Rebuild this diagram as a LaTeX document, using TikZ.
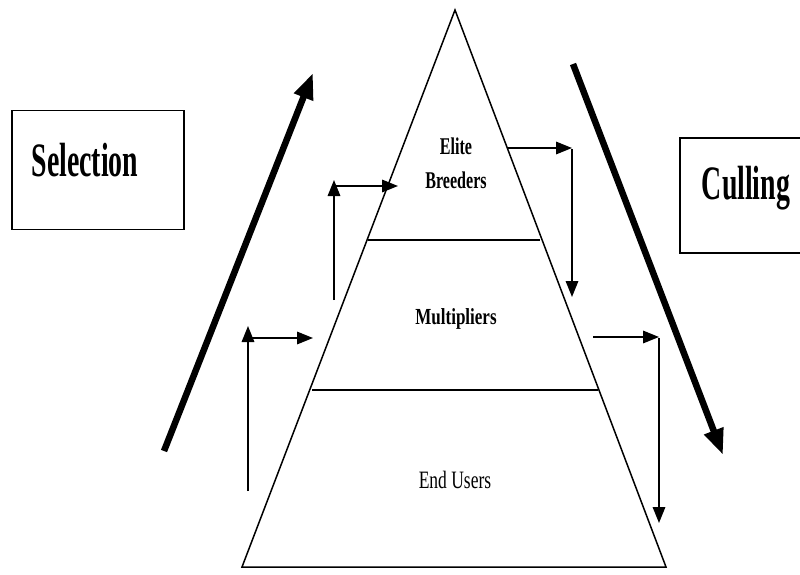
\documentclass[tikz,border=0pt]{standalone}
\usepackage{fontspec}
\setmainfont{Liberation Serif}
\usetikzlibrary{arrows.meta}
\begin{document}
\begin{tikzpicture}[x=1pt,y=-1pt,
  thinline/.style={line width=1.5pt},
  flowarrow/.style={line width=1.7pt,-{Triangle[length=16pt,width=12.5pt]}},
  bigarrow/.style={line width=6.5pt,-{Triangle[length=26pt,width=19pt]}},
  label/.style={inner sep=0pt,anchor=center},
  sidebox/.style={draw,line width=1.8pt,minimum width=172pt,minimum height=119pt,inner sep=0pt}]
\useasboundingbox (0,0) rectangle (800,575);
% pyramid
\coordinate (apex) at (455,10);
\coordinate (bl) at (242,567);
\coordinate (br) at (666,567);
\draw[thinline,line join=miter] (apex) -- (bl) -- (br) -- cycle;
\coordinate (d1l) at (368,240);
\coordinate (d1r) at (540,240);
\coordinate (d2l) at (312,390);
\coordinate (d2r) at (598,390);
\draw[line width=2pt] (d1l) -- (d1r);
\draw[line width=2.2pt] (d2l) -- (d2r);
% labels
\node[label,font=\bfseries\fontsize{24}{24}\selectfont] (elite) at (456,146) {\scalebox{0.67}[1]{Elite}};
\node[label,font=\bfseries\fontsize{24}{24}\selectfont] (breed) at (456,180) {\scalebox{0.67}[1]{Breeders}};
\node[label,font=\bfseries\fontsize{23}{23}\selectfont] (mult) at (456,319) {\scalebox{0.74}[1]{Multipliers}};
\node[label,font=\fontsize{25}{25}\selectfont] (end) at (455,480) {\scalebox{0.7}[1]{End Users}};
% side boxes
\node[sidebox] (selbox) at (98,170) {};
\node[label,font=\bfseries\fontsize{48}{48}\selectfont] (sel) at (85,160) {\scalebox{0.58}[1]{Selection}};
\coordinate (ct) at (800,138);
\coordinate (ctl) at (680,138);
\coordinate (cbl) at (680,253);
\coordinate (cb) at (800,253);
\draw[line width=1.8pt] (ct) -- (ctl) -- (cbl) -- (cb);
\node[label,font=\bfseries\fontsize{48}{48}\selectfont] (cull) at (746,188) {\scalebox{0.58}[1]{Culling}};
% big arrows
\coordinate (s0) at (164,451);
\coordinate (s1) at (313,73);
\draw[bigarrow] (s0) -- (s1);
\coordinate (c0) at (573,64);
\coordinate (c1) at (723,455);
\draw[bigarrow] (c0) -- (c1);
% left flow arrows
\coordinate (la0) at (248,491);
\coordinate (la1) at (248,338);
\coordinate (la2) at (313,338);
\draw[flowarrow] (la0) -- ([yshift=12pt]la1);
\draw[flowarrow] ([xshift=-0.85pt]la1) -- (la2);
\coordinate (lb0) at (334,300);
\coordinate (lb1) at (334,186);
\coordinate (lb2) at (398,186);
\draw[flowarrow] (lb0) -- ([yshift=6pt]lb1);
\draw[flowarrow] ([xshift=-0.85pt]lb1) -- (lb2);
% right flow arrows
\coordinate (ra0) at (508,148);
\coordinate (ra1) at (572,148);
\coordinate (ra2) at (572,297);
\draw[flowarrow] (ra0) -- (ra1);
\draw[flowarrow] ([yshift=-0.85pt]ra1) -- (ra2);
\coordinate (rb0) at (593,337);
\coordinate (rb1) at (659,337);
\coordinate (rb2) at (659,523);
\draw[flowarrow] (rb0) -- (rb1);
\draw[flowarrow] ([yshift=-0.85pt]rb1) -- (rb2);
\end{tikzpicture}
\end{document}
